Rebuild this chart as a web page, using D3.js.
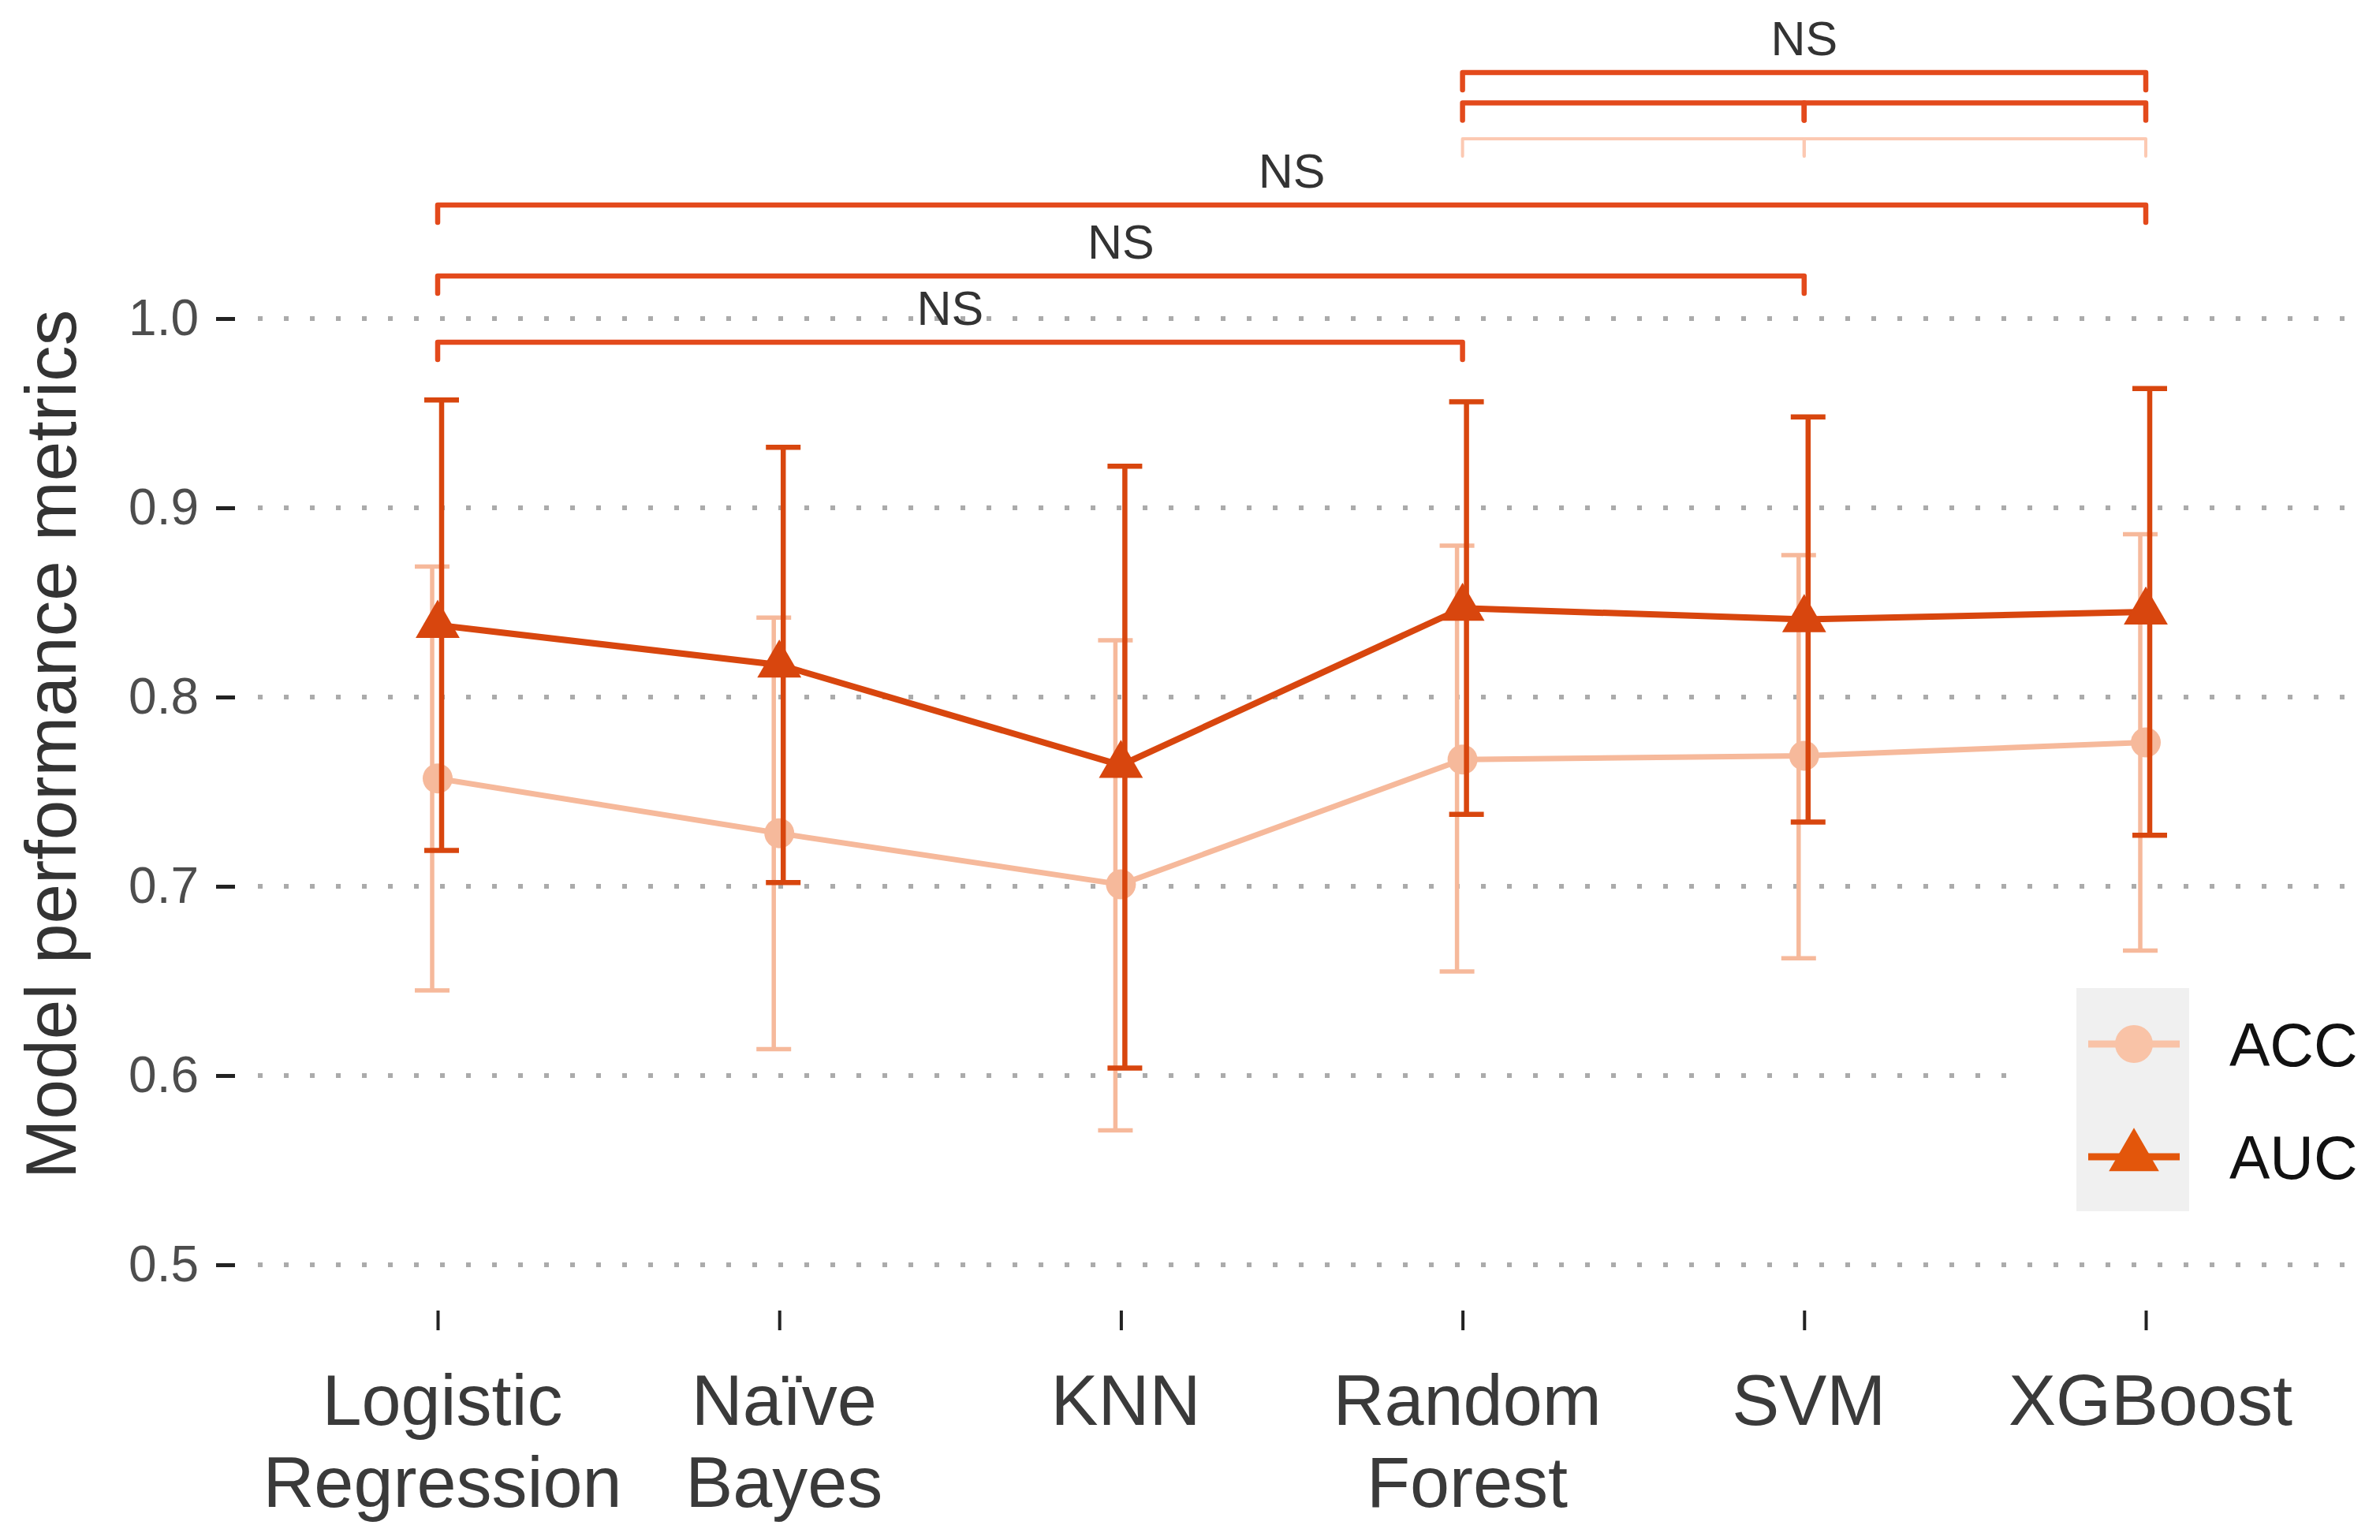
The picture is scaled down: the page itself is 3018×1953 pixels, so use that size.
<!DOCTYPE html>
<html>
<head>
<meta charset="utf-8">
<script src="https://cdn.jsdelivr.net/npm/d3@7"></script>
<style>
    body { margin: 0; background: #fff; }
    text { font-family: "Liberation Sans", Arial, Helvetica, sans-serif; }
</style>
</head>
<body>
<script>
// data
const models = ['Logistic\nRegression', 'Naïve\nBayes', 'KNN', 'Random\nForest', 'SVM', 'XGBoost']
const accMean = [0.757, 0.728, 0.701, 0.767, 0.769, 0.776]
const accLow = [0.645, 0.614, 0.571, 0.655, 0.662, 0.666]
const accHigh = [0.869, 0.842, 0.830, 0.880, 0.875, 0.886]
const aucMean = [0.838, 0.817, 0.764, 0.847, 0.841, 0.845]
const aucLow = [0.719, 0.702, 0.604, 0.738, 0.734, 0.727]
const aucHigh = [0.957, 0.932, 0.922, 0.956, 0.948, 0.963]
const yTicks = [0.5, 0.6, 0.7, 0.8, 0.9, 1.0]

// significance brackets: [from, to, height, metric, label]
const bracketFrom = [0, 0, 0, 3, 3, 4, 3, 4]
const bracketTo = [3, 4, 5, 5, 4, 5, 4, 5]
const bracketY = [0.9875, 1.0225, 1.060, 1.130, 1.114, 1.114, 1.095, 1.095]
const bracketMetric = ['AUC', 'AUC', 'AUC', 'AUC', 'AUC', 'AUC', 'ACC', 'ACC']
const bracketLabel = ['NS', 'NS', 'NS', 'NS', '', '', '', '']

const width = 3018
const height = 1953

const color = {ACC: '#f6b99b', AUC: '#d8460e'}
const legendColor = {ACC: '#f9c3a7', AUC: '#e3560b'}
const bracketColor = {ACC: '#fcc9b2', AUC: '#e34a1c'}

const svg = d3.select('body').append('svg')
    .attr('width', width)
    .attr('height', height)

// scales
const xScale = d3.scalePoint()
    .domain(models)
    .range([555, 2721])

const yScale = d3.scaleLinear()
    .domain([0.5, 1.0])
    .range([1604, 404])

const panelLeft = 300
const panelRight = 2998
const panelBottom = 1662

// grid
svg.append('g')
    .selectAll('line')
    .data(yTicks)
    .join('line')
    .attr('x1', panelLeft + 27)
    .attr('x2', panelRight)
    .attr('y1', d => yScale(d))
    .attr('y2', d => yScale(d))
    .attr('stroke', '#ababab')
    .attr('stroke-width', 6)
    .attr('stroke-dasharray', '6 27')

// y axis
const yAxis = d3.axisLeft(yScale)
    .tickValues(yTicks)
    .tickFormat(d3.format('.1f'))
    .tickSize(24)
    .tickPadding(22)
const yAxisG = svg.append('g')
    .attr('transform', `translate(${panelLeft - 2},0)`)
    .call(yAxis)
yAxisG.select('.domain').remove()
yAxisG.selectAll('.tick line').attr('stroke', '#222').attr('stroke-width', 5)
yAxisG.selectAll('.tick text')
    .attr('fill', '#4d4d4d')
    .style('font-size', '64px')
    .style('font-family', '"Liberation Sans", Arial, sans-serif')

// x axis
const xAxis = d3.axisBottom(xScale)
    .tickSize(25)
    .tickFormat('')
const xAxisG = svg.append('g')
    .attr('transform', `translate(0,${panelBottom})`)
    .call(xAxis)
xAxisG.select('.domain').remove()
xAxisG.selectAll('.tick line').attr('stroke', '#222').attr('stroke-width', 4)

// x labels, two lines
svg.append('g')
    .selectAll('text')
    .data(models)
    .join('text')
    .attr('x', d => xScale(d))
    .attr('y', 1807)
    .attr('text-anchor', 'middle')
    .attr('fill', '#3a3a3a')
    .style('font-size', '90px')
    .each(function(d) {
        const lines = d.split('\n')
        d3.select(this).selectAll('tspan')
            .data(lines)
            .join('tspan')
            .attr('x', xScale(d) + 6)
            .attr('dy', (l, i) => i == 0 ? 0 : 104)
            .text(l => l)
    })

// y title
svg.append('text')
    .attr('transform', `translate(96,944) rotate(-90)`)
    .attr('text-anchor', 'middle')
    .attr('fill', '#333')
    .style('font-size', '91px')
    .text('Model performance metrics')

// series
const series = [
    {key: 'ACC', mean: accMean, low: accLow, high: accHigh, dodge: -7, lw: 7, ew: 5.5},
    {key: 'AUC', mean: aucMean, low: aucLow, high: aucHigh, dodge: 5, lw: 8, ew: 6.5}
]

const line = d3.line()
    .x(d => xScale(d[0]))
    .y(d => yScale(d[1]))

for (let s of series) {
    svg.append('path')
        .datum(models.map((m, i) => [m, s.mean[i]]))
        .attr('fill', 'none')
        .attr('stroke', color[s.key])
        .attr('stroke-width', s.lw)
        .attr('d', line)
}

const triangle = d3.symbol().type(d3.symbolTriangle)

for (let s of series) {
    // error bars
    let g = svg.append('g')
        .attr('stroke', color[s.key])
        .attr('stroke-width', s.ew)
    models.forEach((m, i) => {
        const x = xScale(m) + s.dodge
        g.append('line')
            .attr('x1', x).attr('x2', x)
            .attr('y1', yScale(s.low[i])).attr('y2', yScale(s.high[i]))
        for (let v of [s.low[i], s.high[i]]) {
            g.append('line')
                .attr('x1', x - 22).attr('x2', x + 22)
                .attr('y1', yScale(v)).attr('y2', yScale(v))
        }
    })

    // points
    if (s.key == 'ACC') {
        svg.append('g')
            .selectAll('circle')
            .data(models)
            .join('circle')
            .attr('cx', d => xScale(d))
            .attr('cy', (d, i) => yScale(s.mean[i]))
            .attr('r', 19)
            .attr('fill', color.ACC)
    } else {
        svg.append('g')
            .selectAll('path')
            .data(models)
            .join('path')
            .attr('transform', (d, i) => `translate(${xScale(d)},${yScale(s.mean[i])})`)
            .attr('d', triangle.size(1350))
            .attr('fill', color.AUC)
    }
}

// brackets
const tickLen = 22
bracketY.forEach((yv, i) => {
    const x1 = xScale(models[bracketFrom[i]])
    const x2 = xScale(models[bracketTo[i]])
    const y = yScale(yv)
    const metric = bracketMetric[i]
    svg.append('path')
        .attr('d', `M${x1},${y + tickLen}V${y}H${x2}V${y + tickLen}`)
        .attr('fill', 'none')
        .attr('stroke', bracketColor[metric])
        .attr('stroke-width', metric == 'AUC' ? 6.5 : 4)
        .attr('stroke-linejoin', 'round')
        .attr('stroke-linecap', 'round')
    if (bracketLabel[i]) {
        svg.append('text')
            .attr('x', (x1 + x2) / 2)
            .attr('y', y - 22)
            .attr('text-anchor', 'middle')
            .attr('fill', '#333')
            .style('font-size', '61px')
            .text(bracketLabel[i])
    }
})

// legend
const legend = svg.append('g')
legend.append('rect')
    .attr('x', 2550).attr('y', 1215)
    .attr('width', 468).attr('height', 360)
    .attr('fill', '#fff')
legend.append('rect')
    .attr('x', 2633).attr('y', 1253)
    .attr('width', 143).attr('height', 283)
    .attr('fill', '#f0f0f0')

const legendKeys = ['ACC', 'AUC']
legendKeys.forEach((k, i) => {
    const cy = 1324 + i * 143
    legend.append('line')
        .attr('x1', 2648).attr('x2', 2764)
        .attr('y1', cy).attr('y2', cy)
        .attr('stroke', legendColor[k])
        .attr('stroke-width', 9)
    if (k == 'ACC') {
        legend.append('circle')
            .attr('cx', 2706).attr('cy', cy)
            .attr('r', 24)
            .attr('fill', legendColor[k])
    } else {
        legend.append('path')
            .attr('transform', `translate(2706,${cy})`)
            .attr('d', triangle.size(1750))
            .attr('fill', legendColor[k])
    }
    legend.append('text')
        .attr('x', 2827)
        .attr('y', cy + 28)
        .attr('fill', '#111')
        .style('font-size', '77px')
        .text(k)
})
</script>
</body>
</html>
